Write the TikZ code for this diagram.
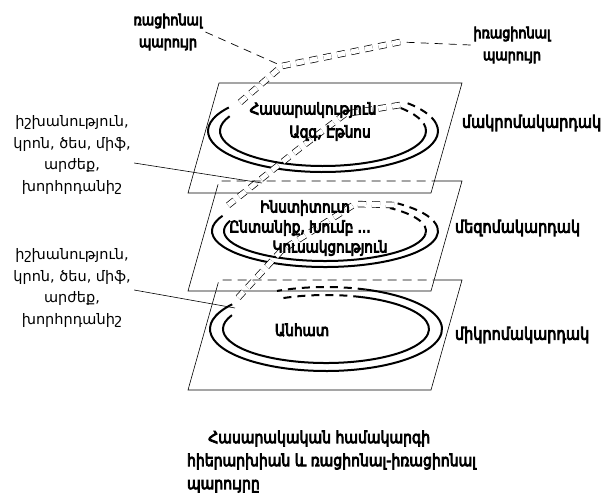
\documentclass[tikz,border=0pt]{standalone}
\usepackage{fontspec}
\newfontfamily\armfont{DejaVu Sans}
\usetikzlibrary{calc,positioning}

\begin{document}
\begin{tikzpicture}[
  x=1pt, y=-1pt,
  plane/.style={draw, fill=white, line width=0.6pt},
  hidden/.style={line width=0.6pt, dash pattern=on 9pt off 6pt},
  ring/.style={line width=2pt},
  ringd/.style={line width=2pt, dash pattern=on 8pt off 6pt},
  twin/.style={line width=0.7pt, double=white, double distance=5pt, dash pattern=on 8pt off 6pt},
  spiral/.style={line width=0.7pt, dash pattern=on 8pt off 6pt},
  leader/.style={line width=0.6pt},
  heavy/.style={xscale=0.85,
                execute at begin node={\special{pdf:literal direct 2 Tr 0.9 w}},
                execute at end node={\special{pdf:literal direct 0 Tr}}},
  tag/.style={heavy, font=\armfont\fontsize{15}{22}\selectfont, align=center},
  lvl/.style={heavy, font=\armfont\fontsize{17}{19}\selectfont, anchor=west},
  inner/.style={heavy, font=\armfont\fontsize{16}{19}\selectfont},
  note/.style={font=\armfont\fontsize{14.5}{21.5}\selectfont, align=center},
  caption/.style={heavy, font=\armfont\fontsize{16.5}{23}\selectfont, align=left}
]
  \useasboundingbox (0,0) rectangle (607,498);

  % planes, back to front
  \foreach \t in {280,181,83}
    \draw[plane] (219,\t) -- ++(243,0) -- ++(-31,110) -- ++(-243,0) -- cycle;
  \draw[hidden] (215.6,193) -- (219,181) -- (434.4,181);
  \draw[hidden] (215.9,291) -- (219,280) -- (434.1,280);

  \coordinate (c1) at (323,131);
  \coordinate (c2) at (325,231);
  \coordinate (c3) at (326,329);

  % rings of the spiral
  \draw[ring] (c1) ++(215:115 and 41) arc[start angle=215, end angle=-10, x radius=115, y radius=41];
  \draw[ringd] (c1) ++(-10:115 and 41) arc[start angle=-10, end angle=-45, x radius=115, y radius=41];
  \draw[ring] (c1) ++(205:103 and 35) arc[start angle=205, end angle=0, x radius=103, y radius=35];
  \draw[ringd] (c1) ++(0:103 and 35) arc[start angle=0, end angle=-45, x radius=103, y radius=35];

  \draw[ring] (c2) ++(205:113 and 36) arc[start angle=205, end angle=-5, x radius=113, y radius=36];
  \draw[ringd] (c2) ++(-5:113 and 36) arc[start angle=-5, end angle=-50, x radius=113, y radius=36];
  \draw[ring] (c2) ++(200:101 and 30) arc[start angle=200, end angle=5, x radius=101, y radius=30];
  \draw[ringd] (c2) ++(5:101 and 30) arc[start angle=5, end angle=-50, x radius=101, y radius=30];

  \draw[ring] (c3) ++(216:116 and 42) arc[start angle=216, end angle=-70, x radius=116, y radius=42];
  \draw[ringd] (c3) ++(-70:116 and 42) arc[start angle=-70, end angle=-115, x radius=116, y radius=42];
  \draw[ring] (c3) ++(204:103 and 34) arc[start angle=204, end angle=-70, x radius=103, y radius=34];
  \draw[ringd] (c3) ++(-70:103 and 34) arc[start angle=-70, end angle=-115, x radius=103, y radius=34];

  % spiral labels
  \node[tag] (rat) at (168,32) {ռացիոնալ\\պարույր};
  \node[tag] (irr) at (512,45) {իռացիոնալ\\պարույր};

  \coordinate (j) at (282,66);
  \coordinate (k) at (400,42);
  \coordinate (s1) at (237,105);
  \coordinate (t1) at (400,105);
  \coordinate (m1) at (300,148);
  \coordinate (s2) at (226,207);
  \coordinate (t2) at (394,205);
  \coordinate (m2) at (282,250);
  \coordinate (s3) at (236,300);

  \draw[spiral] (rat.east) -- (j);
  \draw[spiral] (irr.west) -- (k);
  \draw[twin] (k) -- (j) -- (s1);
  \draw[twin] (t1) -- (345,114) -- (m1) -- (s2);
  \draw[twin] (t2) -- (355,204) -- (m2) -- (s3);

  % texts on the levels
  \node[inner] (society) at (313,110) {Հասարակություն};
  \node[inner] (nation) at (330,133) {Ազգ, Էթնոս};
  \node[inner] (inst) at (305,208) {Ինստիտուտ};
  \node[inner] (family) at (300,228) {Ընտանիք, Խումբ ...};
  \node[inner] (party) at (330,248) {Կուսակցություն};
  \node[inner] (person) at (302,330) {Անհատ};

  \node[lvl] (macro) at (459,123) {մակրոմակարդակ};
  \node[lvl] (meso) at (452,228) {մեզոմակարդակ};
  \node[lvl] (micro) at (452,335) {միկրոմակարդակ};

  % means of the spiral
  \node[note] (means1) at (72,155) {իշխանություն,\\կրոն, ծես, միֆ,\\արժեք,\\խորհրդանիշ};
  \node[note] (means2) at (72,288) {իշխանություն,\\կրոն, ծես, միֆ,\\արժեք,\\խորհրդանիշ};
  \coordinate (p1) at (262,183);
  \coordinate (p2) at (235,308);
  \draw[leader] ([yshift=-8pt]means1.east) -- (p1);
  \draw[leader] ([yshift=-2pt]means2.east) -- (p2);

  \node[caption, anchor=north west] (cap) at (184,427) {\hspace*{25pt}Հասարակական համակարգի\\հիերարխիան և ռացիոնալ-իռացիոնալ\\պարույրը};
\end{tikzpicture}
\end{document}
